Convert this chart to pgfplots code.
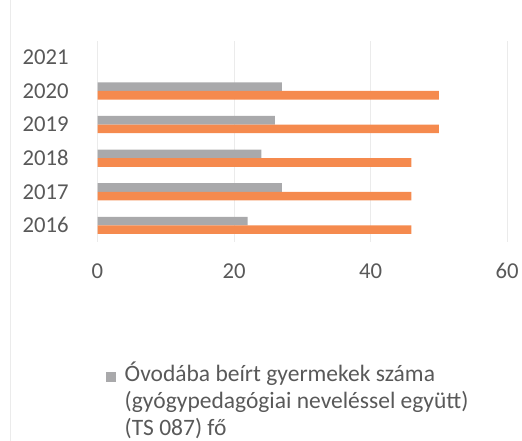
\documentclass[border=0pt]{standalone}
\usepackage{fontspec}
\setmainfont{Carlito}
\usepackage{pgfplots}
\pgfplotsset{compat=1.18}
\definecolor{txt}{HTML}{595959}
\definecolor{barGray}{HTML}{A9A9AB}
\definecolor{barOrange}{HTML}{F58A4E}
\definecolor{gridc}{HTML}{EBEBEB}
\begin{document}
\fontsize{23.5bp}{27bp}\selectfont
\begin{tikzpicture}[x=1bp,y=1bp]
\path[use as bounding box] (0,0) rectangle (522,441);
\draw[gridc] (10,0)--(10,441);
\begin{axis}[
  scale only axis, width=409.5bp, height=201.6bp,
  at={(97.5bp,198.8bp)}, anchor=south west,
  xbar, bar width=8.6bp,
  xmin=0, xmax=60, ymin=2015.5, ymax=2021.5,
  xtick={0,20,40,60}, ytick={2016,2017,2018,2019,2020,2021},
  /pgf/number format/assume math mode=true,
  /pgf/number format/set thousands separator={},
  axis line style={draw=none}, tick style={draw=none},
  xmajorgrids, major grid style={gridc, line width=0.8bp},
  ticklabel style={font=\fontsize{22.7bp}{26bp}\selectfont, text=txt},
  yticklabel style={anchor=east, inner sep=0pt, xshift=-24.5bp},
  xticklabel style={anchor=north, inner sep=0pt, yshift=-21bp},
  legend style={at={(0.0208,-0.584)}, anchor=north west, draw=none, fill=none,
    inner sep=0pt, column sep=0pt, font=\fontsize{23.5bp}{27bp}\selectfont, text=txt,
    cells={anchor=base west, inner sep=0pt}},
]
\addplot[fill=barGray, draw=none, bar shift=4.3bp,
  legend image code/.code={\path[fill=none, draw=none] (0bp,0bp) rectangle (16.5bp,10bp);\fill[barGray] (0bp,0bp) rectangle (10bp,10bp);}]
  coordinates {(22,2016) (27,2017) (24,2018) (26,2019) (27,2020)};
\addlegendentry{\begin{tabular}[t]{@{}l@{}}Óvodába beírt gyermekek száma\\(gyógypedagógiai neveléssel együtt)\\(TS 087) fő\end{tabular}}
\addplot[fill=barOrange, draw=none, bar shift=-4.3bp, forget plot]
  coordinates {(46,2016) (46,2017) (46,2018) (50,2019) (50,2020)};
\end{axis}
\end{tikzpicture}
\end{document}
